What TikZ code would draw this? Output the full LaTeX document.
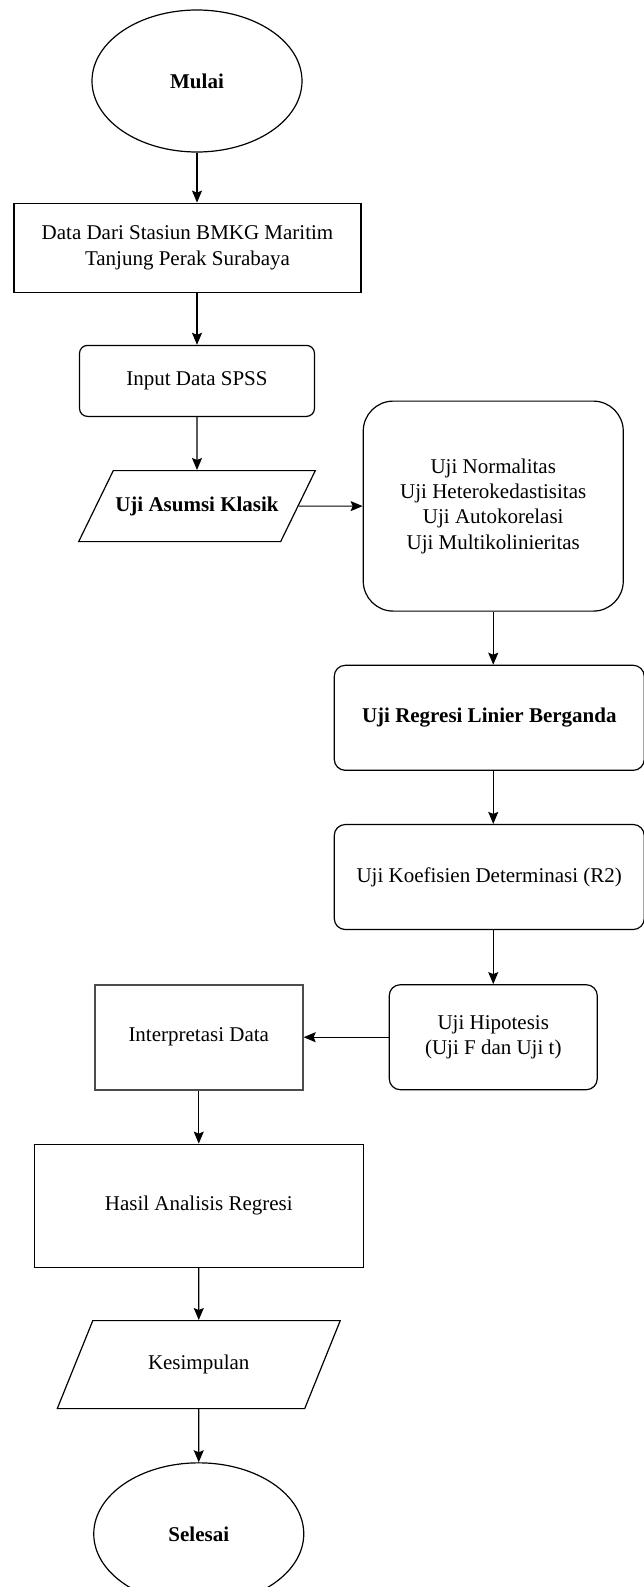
\documentclass[tikz,border=0pt]{standalone}
\usepackage{fontspec}
\setmainfont{Liberation Serif}
\usetikzlibrary{positioning,arrows.meta,shapes.geometric}
\newcommand\figfont{\fontsize{21}{25.3}\selectfont}
\tikzset{
  fig/.style={font=\figfont},
  term/.style={draw,ellipse,line width=1.2pt,minimum width=210pt,minimum height=142pt,
               font=\figfont\bfseries},
  box/.style={draw,line width=1.2pt,align=center,inner sep=2pt},
  rbox/.style={box,rounded corners=11pt},
  iobox/.style={draw,line width=1.2pt,trapezium,trapezium stretches body,align=center,
                text height=15pt,text depth=5pt,inner xsep=2pt},
  ln/.style={-{Stealth[length=12pt,width=10pt,inset=2pt]},line width=1.2pt},
}

\begin{document}
\begin{tikzpicture}[fig,x=1pt,y=1pt,
  wide/.style={minimum width=310pt,minimum height=105pt},
  half/.style={minimum width=208pt,minimum height=105pt}]
\useasboundingbox (0,0) rectangle (644,-1587);

\node[term] (mulai) at (197,-81) {Mulai};
\node[box,below=50pt of mulai,xshift=-9.5pt,minimum width=347pt,minimum height=89pt] (data)
  {Data Dari Stasiun BMKG Maritim\\Tanjung Perak Surabaya};
\node[rbox,rounded corners=8pt,below=52pt of mulai.south|-data.south,minimum width=235pt,minimum height=71pt] (input)
  {Input Data SPSS};
\node[iobox,below=53pt of input,minimum width=234pt,inner ysep=25.5pt,
      trapezium left angle=64,trapezium right angle=116,font=\figfont\bfseries] (asumsi)
  {Uji Asumsi Klasik};
\node[rbox,rounded corners=30pt,right=64pt of asumsi,minimum width=260pt,minimum height=210pt] (klasik)
  {Uji Normalitas\\Uji Heterokedastisitas\\Uji Autokorelasi\\Uji Multikolinieritas};

\node[rbox,wide,below=53pt of klasik,xshift=-4pt,font=\figfont\bfseries] (regresi) {Uji Regresi Linier Berganda};
\node[rbox,wide,below=53pt of regresi] (koef) {Uji Koefisien Determinasi (R2)};
\node[rbox,half,below=54pt of klasik|-koef.south] (hipo) {Uji Hipotesis\\(Uji F dan Uji t)};
\node[box,half,left=85pt of hipo,draw=black!70,line width=1.8pt] (interp) {Interpretasi Data};

\node[box,below=53pt of interp,minimum width=329pt,minimum height=123pt,line width=1.4pt] (hasil)
  {Hasil Analisis Regresi};
\node[iobox,below=52pt of hasil,minimum width=283pt,inner ysep=34pt,
      trapezium left angle=68,trapezium right angle=112] (simpul) {Kesimpulan};
\node[term,below=53pt of simpul] (selesai) {Selesai};

\draw[ln] (mulai) -- (mulai|-data.north);
\draw[ln] (mulai|-data.south) -- (input);
\draw[ln] (input) -- (asumsi);
\draw[ln] (asumsi) -- (klasik);
\draw[ln] (klasik) -- (klasik|-regresi.north);
\draw[ln] (klasik|-regresi.south) -- (klasik|-koef.north);
\draw[ln] (klasik|-koef.south) -- (hipo);
\draw[ln] (hipo) -- (interp);
\draw[ln] (interp) -- (hasil);
\draw[ln] (hasil) -- (simpul);
\draw[ln] (simpul) -- (selesai);

\end{tikzpicture}
\end{document}
